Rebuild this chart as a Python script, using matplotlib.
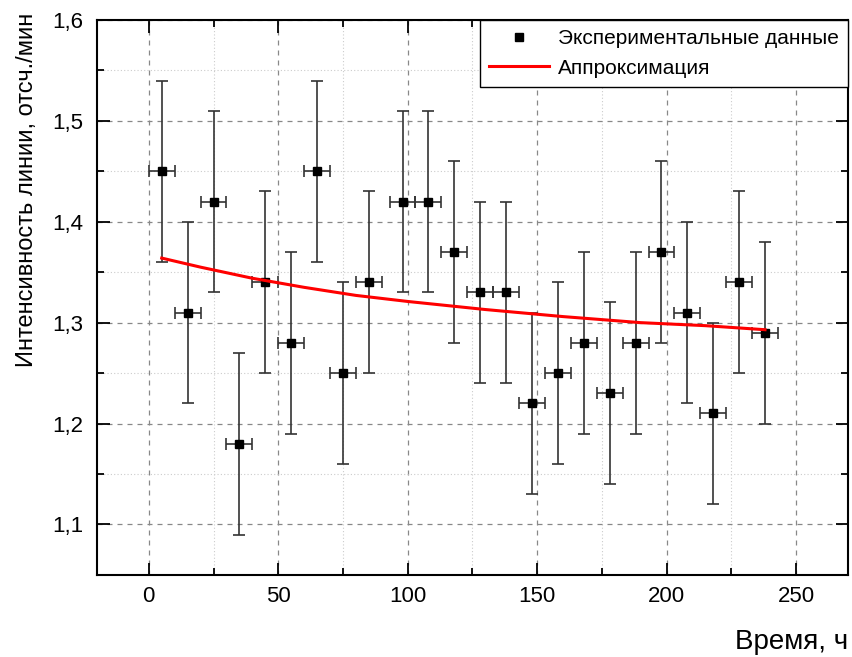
import numpy as np
import matplotlib
matplotlib.use("Agg")
import matplotlib.pyplot as plt
from matplotlib.ticker import MultipleLocator, FuncFormatter
from matplotlib.lines import Line2D

plt.rcParams['font.family'] = ['Liberation Sans', 'DejaVu Sans']

# Experimental data (time, h / intensity, counts/min)
time_h = [5, 15, 25, 35, 45, 55, 65, 75, 85, 98, 108, 118,
          128, 138, 148, 158, 168, 178, 188, 198, 208, 218, 228, 238]
intensity = [1.45, 1.31, 1.42, 1.18, 1.34, 1.28, 1.45, 1.25, 1.34, 1.42, 1.42, 1.37,
             1.33, 1.33, 1.22, 1.25, 1.28, 1.23, 1.28, 1.37, 1.31, 1.21, 1.34, 1.29]
y_err = [0.09] * len(time_h)
x_err = [5] * len(time_h)

# Approximation curve
fit_x = [5, 20, 40, 60, 80, 100, 130, 160, 190, 215, 238]
fit_y = [1.364, 1.355, 1.344, 1.335, 1.327, 1.321, 1.313, 1.306, 1.300, 1.297, 1.293]

fig = plt.figure(figsize=(8.53, 6.57), dpi=100)
ax = fig.add_axes([0.1137, 0.125, 0.8803, 0.8446])

ax.errorbar(time_h, intensity, yerr=y_err, xerr=x_err, fmt='none',
            ecolor='#333333', elinewidth=1.2, capsize=4.5, capthick=1.2, zorder=3)
ax.plot(time_h, intensity, 's', color='black', markersize=5.5, zorder=4)
ax.plot(fit_x, fit_y, color='red', linewidth=2.2, zorder=5)

ax.set_xlim(-20, 270)
ax.set_ylim(1.05, 1.6)
ax.xaxis.set_major_locator(MultipleLocator(50))
ax.xaxis.set_minor_locator(MultipleLocator(25))
ax.yaxis.set_major_locator(MultipleLocator(0.1))
ax.yaxis.set_minor_locator(MultipleLocator(0.05))
ax.yaxis.set_major_formatter(FuncFormatter(lambda v, p: f"{v:.1f}".replace('.', ',')))

ax.grid(True, which='major', linestyle=(0, (4, 4)), color='#888888', linewidth=0.9)
ax.grid(True, which='minor', linestyle=(0, (1, 2)), color='#cccccc', linewidth=0.8)
ax.set_axisbelow(True)

ax.tick_params(which='both', direction='in', top=True, right=True, labelsize=16, width=1.3)
ax.tick_params(which='major', length=9)
ax.tick_params(axis='x', which='major', pad=8)
ax.tick_params(axis='y', which='major', pad=10)
ax.tick_params(which='minor', length=5)
for s in ax.spines.values():
    s.set_linewidth(1.5)

ax.set_xlabel('Время, ч', fontsize=20, loc='right', labelpad=16)
ax.set_ylabel('Интенсивность линии, отсч./мин', fontsize=17, loc='top')
ax.yaxis.set_label_coords(-0.078, 1.013)

handles = [Line2D([], [], marker='s', color='black', linestyle='none', markersize=5.5),
           Line2D([], [], color='red', linewidth=2.2)]
leg = ax.legend(handles, ['Экспериментальные данные', 'Аппроксимация'],
                loc='upper right', fontsize=15, fancybox=False, framealpha=1,
                edgecolor='black', borderaxespad=0, handlelength=2.9,
                handletextpad=0.4, borderpad=0.45, labelspacing=0.5)
leg.get_frame().set_linewidth(1.0)

fig.savefig('out.png', dpi=100)
